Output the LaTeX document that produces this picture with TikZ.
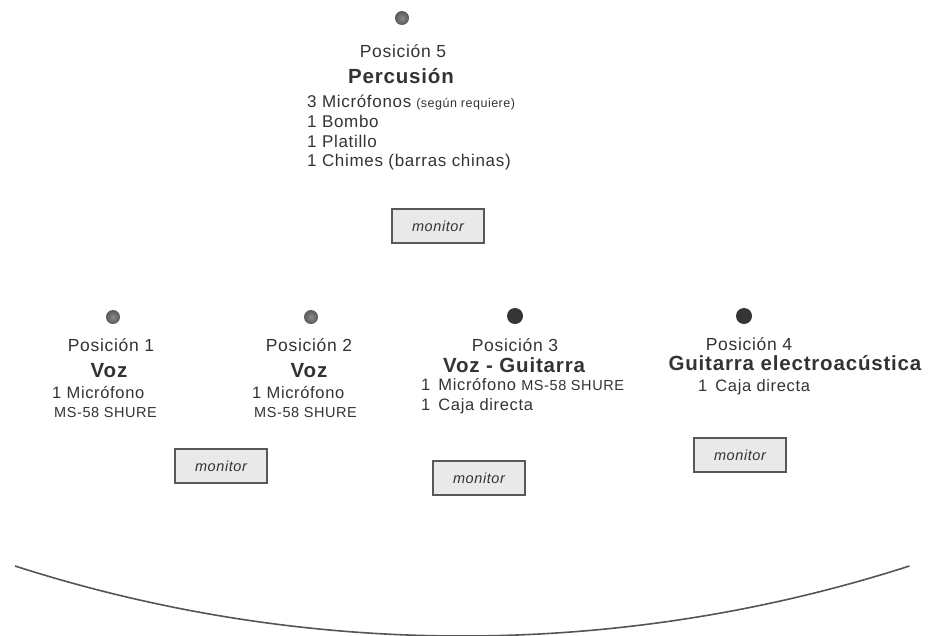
\documentclass[tikz,border=0pt]{standalone}
\usepackage{fontspec}
\setmainfont{Liberation Sans}[LetterSpace=4]
\definecolor{txt}{HTML}{333333}
\definecolor{boxc}{HTML}{585858}
\definecolor{boxf}{HTML}{E9E9E9}
\definecolor{dotd}{HTML}{353535}
\definecolor{arcc}{HTML}{555555}
\tikzset{
  lbl/.style={inner sep=0pt, text=txt, anchor=base, font=\fontsize{17.5}{20}\selectfont},
  ttl/.style={inner sep=0pt, text=txt, anchor=base, font=\bfseries\fontsize{20.5}{24}\selectfont},
  itm/.style={inner sep=0pt, text=txt, anchor=base west, font=\fontsize{16.5}{19}\selectfont},
  itmtop/.style={inner sep=0pt, text=txt, anchor=base west, font=\fontsize{17}{19}\selectfont},
  sm/.style={inner sep=0pt, text=txt, anchor=base west, font=\fontsize{14.5}{17}\selectfont},
  mon/.style={draw=boxc, line width=1.8pt, fill=boxf, minimum width=92pt, minimum height=34pt,
    inner sep=0pt, text=txt, font=\itshape\fontsize{14.5}{17}\selectfont},
  dotg/.style={circle, inner sep=0pt, minimum size=14pt, inner color=gray!92, outer color=gray!70!black},
  dotk/.style={circle, inner sep=0pt, minimum size=16pt, fill=dotd},
}
\newcommand{\smalltxt}[1]{{\fontsize{14.5}{17}\selectfont #1}}
\begin{document}
\begin{tikzpicture}[x=1pt,y=1pt]
\useasboundingbox (0,0) rectangle (928,-635);
\clip (0,0) rectangle (928,-635);
% position 5
\node[dotg] (d5) at (402,-18) {};
\node[lbl] (p5) at (403,-57) {Posición 5};
\node[ttl] (t5) at (401,-83) {Percusión};
\node[itmtop] (i51) at (307,-107) {3 Micrófonos\hspace{5pt}{\fontsize{12.5}{14}\selectfont(según requiere)}};
\node[itmtop] (i52) at (307,-127) {1 Bombo};
\node[itmtop] (i53) at (307,-147) {1 Platillo};
\node[itmtop] (i54) at (307,-166) {1 Chimes (barras chinas)};
\node[mon] (m5) at (438,-226) {monitor};
% position 1
\node[dotg] (d1) at (113,-317) {};
\node[lbl] (p1) at (111,-351) {Posición 1};
\node[ttl] (t1) at (109,-377) {Voz};
\node[itm] (i11) at (52,-398) {1 Micrófono};
\node[sm] (i12) at (54,-417) {MS-58 SHURE};
\node[mon] (m1) at (221,-466) {monitor};
% position 2
\node[dotg] (d2) at (311,-317) {};
\node[lbl] (p2) at (309,-351) {Posición 2};
\node[ttl] (t2) at (309,-377) {Voz};
\node[itm] (i21) at (252,-398) {1 Micrófono};
\node[sm] (i22) at (254,-417) {MS-58 SHURE};
% position 3
\node[dotk] (d3) at (515,-316) {};
\node[lbl] (p3) at (515,-351) {Posición 3};
\node[ttl] (t3) at (514,-372) {Voz - Guitarra};
\node[itm] (i31) at (421,-390) {1\hspace{8pt}Micrófono \smalltxt{MS-58 SHURE}};
\node[itm] (i32) at (421,-410) {1\hspace{8pt}Caja directa};
\node[mon] (m3) at (479,-478) {monitor};
% position 4
\node[dotk] (d4) at (744,-316) {};
\node[lbl] (p4) at (749,-350) {Posición 4};
\node[ttl] (t4) at (795,-370) {Guitarra electroacústica};
\node[itm] (i41) at (698,-391) {1\hspace{8pt}Caja directa};
\node[mon] (m4) at (740,-455) {monitor};
% stage edge
\coordinate (aL) at (15,-566);
\draw[arcc, line width=1.6pt] (aL) arc[start angle=252.2, end angle=287.8, radius=1463pt];
\end{tikzpicture}
\end{document}
